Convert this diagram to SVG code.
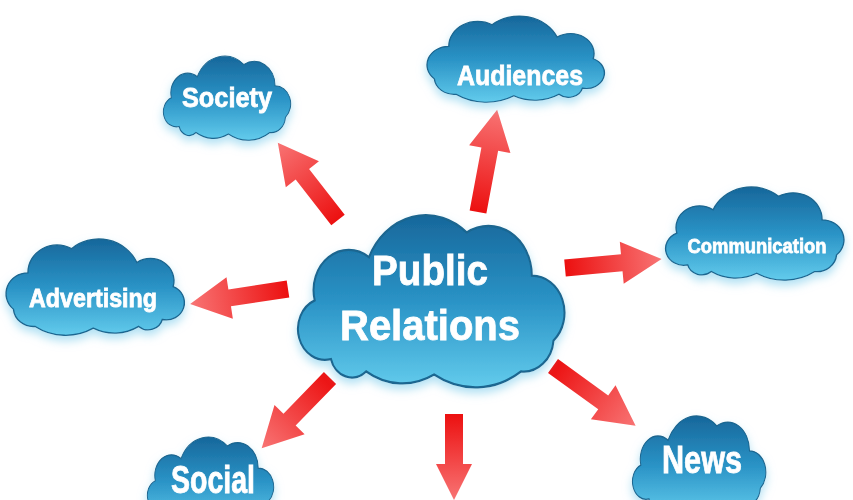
<svg xmlns="http://www.w3.org/2000/svg" width="853" height="500" viewBox="0 0 853 500">
<style>
.cloud{fill:url(#cg);stroke:#1a6690;stroke-width:1.5;vector-effect:non-scaling-stroke}
.arrow{fill:url(#ag)}
.lbl{font-family:"Liberation Sans",Arial,sans-serif;font-weight:bold;fill:#fff;stroke:#fff;stroke-width:0.8;text-anchor:middle}
</style>
<defs>
<linearGradient id="cg" x1="0" y1="0" x2="0" y2="1">
<stop offset="0" stop-color="#17679b"/>
<stop offset="0.5" stop-color="#2a93c6"/>
<stop offset="1" stop-color="#62cbec"/>
</linearGradient>
<linearGradient id="ag" x1="0" y1="0" x2="1" y2="0">
<stop offset="0" stop-color="#ec1010"/>
<stop offset="1" stop-color="#f87474"/>
</linearGradient>
<filter id="sh" x="-20%" y="-20%" width="140%" height="150%">
<feDropShadow dx="0" dy="5" stdDeviation="5" flood-color="#8fd3ee" flood-opacity="0.7"/>
</filter>
<path id="cl" d="M24,100 A20,20 0 0 1 12,62 A26,26 0 0 1 52,34 A46,46 0 0 1 124,18 A32,32 0 0 1 172,46 A24,24 0 0 1 188,88 A22,22 0 0 1 164,108 A60,60 0 0 1 100,110 A50,50 0 0 1 50,108 A16,16 0 0 1 24,100 Z"/>
</defs>
<rect width="853" height="500" fill="#fff"/>
<g id="connectors">
<polygon class="arrow" points="0,-8.5 58,-8.5 58,-21 98,0 58,21 58,8.5 0,8.5" transform="translate(338,220) rotate(-127.9)"/>
<polygon class="arrow" points="0,-8.5 64,-8.5 64,-21 104,0 64,21 64,8.5 0,8.5" transform="translate(478,212) rotate(-79.4)"/>
<polygon class="arrow" points="0,-8.5 57,-8.5 57,-21 97,0 57,21 57,8.5 0,8.5" transform="translate(565,268) rotate(-5.3)"/>
<polygon class="arrow" points="0,-8.5 59,-8.5 59,-21 99,0 59,21 59,8.5 0,8.5" transform="translate(288,289) rotate(171.3)"/>
<polygon class="arrow" points="0,-8.5 58,-8.5 58,-21 98,0 58,21 58,8.5 0,8.5" transform="translate(330,378) rotate(134.2)"/>
<polygon class="arrow" points="0,-9 50,-9 50,-18 86,0 50,18 50,9 0,9" transform="translate(454,414) rotate(90)"/>
<polygon class="arrow" points="0,-8.5 62,-8.5 62,-21 102,0 62,21 62,8.5 0,8.5" transform="translate(553,366) rotate(35.9)"/>
</g>
<g id="society" filter="url(#sh)">
<use href="#cl" class="cloud" transform="translate(163.6,51) scale(0.648,0.755)"/>
<text class="lbl" x="227" y="107" font-size="28" textLength="90" lengthAdjust="spacingAndGlyphs">Society</text>
</g>
<g id="audiences" filter="url(#sh)">
<use href="#cl" class="cloud" transform="translate(604.1,10.8) scale(-0.903,0.773)"/>
<text class="lbl" x="520" y="85" font-size="28" textLength="126" lengthAdjust="spacingAndGlyphs">Audiences</text>
</g>
<g id="communication" filter="url(#sh)">
<use href="#cl" class="cloud" transform="translate(665.9,181.3) scale(0.908,0.836)"/>
<text class="lbl" x="757" y="253" font-size="21" textLength="139" lengthAdjust="spacingAndGlyphs">Communication</text>
</g>
<g id="advertising" filter="url(#sh)">
<use href="#cl" class="cloud" transform="translate(184.1,233.1) scale(-0.908,0.864)"/>
<text class="lbl" x="93" y="307" font-size="26" textLength="128" lengthAdjust="spacingAndGlyphs">Advertising</text>
</g>
<g id="public-relations" filter="url(#sh)">
<use href="#cl" class="cloud" transform="translate(298.4,204.6) scale(1.357,1.545)"/>
<text class="lbl" x="430" y="285" font-size="42" textLength="116" lengthAdjust="spacingAndGlyphs">Public</text>
<text class="lbl" x="430" y="340" font-size="42" textLength="180" lengthAdjust="spacingAndGlyphs">Relations</text>
</g>
<g id="news" filter="url(#sh)">
<use href="#cl" class="cloud" transform="translate(632.7,409.9) scale(0.679,0.89)"/>
<text class="lbl" x="702" y="473" font-size="38" textLength="80" lengthAdjust="spacingAndGlyphs">News</text>
</g>
<g id="social" filter="url(#sh)">
<use href="#cl" class="cloud" transform="translate(147.6,431.7) scale(0.643,0.79)"/>
<text class="lbl" x="213" y="493" font-size="38" textLength="84" lengthAdjust="spacingAndGlyphs">Social</text>
</g>
</svg>
